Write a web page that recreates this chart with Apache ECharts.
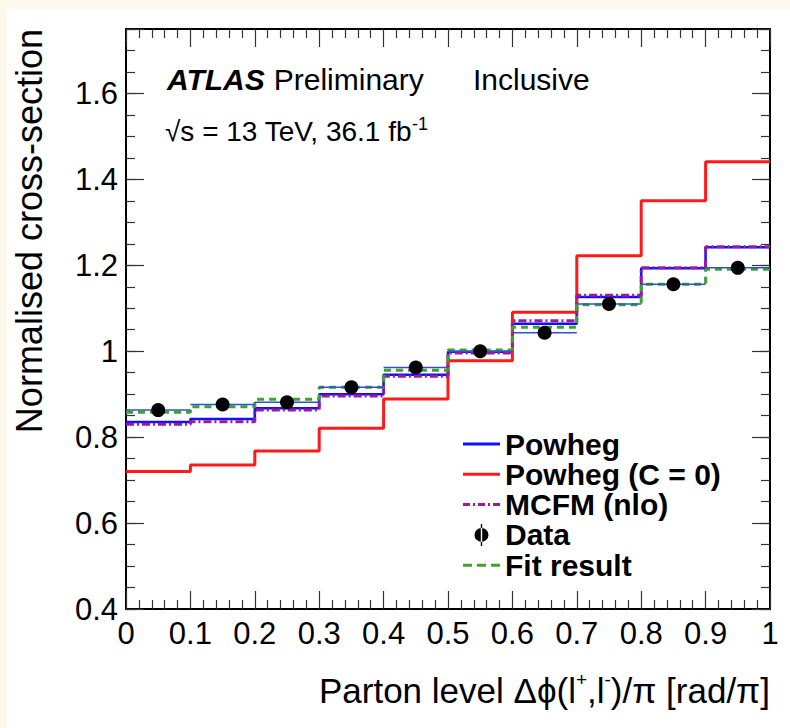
<!DOCTYPE html>
<html>
<head>
<meta charset="utf-8">
<script src="https://cdn.jsdelivr.net/npm/echarts@6/dist/echarts.min.js"></script>
<style>
  html, body { margin: 0; padding: 0; background: #fdf9ea; }
  #chart { position: absolute; left: 7px; top: 9px; width: 783px; height: 719px; background: #ffffff; }
</style>
</head>
<body>
<div id="chart"></div>
<script>
// ---- data ----
const binEdges   = [0, 0.1, 0.2, 0.3, 0.4, 0.5, 0.6, 0.7, 0.8, 0.9, 1.0];
const binCenters = [0.05, 0.15, 0.25, 0.35, 0.45, 0.55, 0.65, 0.75, 0.85, 0.95];
const powheg     = [0.835, 0.842, 0.867, 0.900, 0.945, 0.999, 1.064, 1.126, 1.193, 1.242];
const powhegC0   = [0.720, 0.735, 0.768, 0.821, 0.889, 0.978, 1.091, 1.222, 1.350, 1.441];
const mcfm       = [0.830, 0.836, 0.863, 0.896, 0.942, 0.996, 1.071, 1.130, 1.194, 1.243];
const dataVals   = [0.863, 0.876, 0.881, 0.916, 0.962, 1.000, 1.043, 1.110, 1.156, 1.194];
const fitVals    = [0.858, 0.871, 0.888, 0.916, 0.956, 1.003, 1.056, 1.108, 1.156, 1.191];

const xTickValues = [0, 0.1, 0.2, 0.3, 0.4, 0.5, 0.6, 0.7, 0.8, 0.9, 1];
const xTickLabels = ['0', '0.1', '0.2', '0.3', '0.4', '0.5', '0.6', '0.7', '0.8', '0.9', '1'];
const yTickValues = [0.4, 0.6, 0.8, 1, 1.2, 1.4, 1.6];
const yTickLabels = ['0.4', '0.6', '0.8', '1', '1.2', '1.4', '1.6'];

const seriesNames = ['Powheg', 'Powheg (C = 0)', 'MCFM (nlo)', 'Data', 'Fit result'];

// ---- helpers ----
const FONT = "'Liberation Sans', Arial, Helvetica, sans-serif";
function stepData(vals) {
  const out = vals.map((v, i) => [binEdges[i], v]);
  out.push([binEdges[binEdges.length - 1], vals[vals.length - 1]]);
  return out;
}
function findLabel(values, labels, v) {
  const i = values.findIndex(t => Math.abs(t - v) < 1e-6);
  return i >= 0 ? labels[i] : '';
}
const histData = dataVals.map((v, i) => [binCenters[i], v, binEdges[i], binEdges[i + 1]]);

const frameLine = { show: true, lineStyle: { color: '#000', width: 2 } };
const tickStyle = { color: '#333', width: 1.2 };

function xAxisDef(pos, showLabel) {
  return {
    type: 'value', position: pos, min: 0, max: 1, interval: 0.1,
    axisLine: frameLine,
    axisTick: { show: true, inside: true, length: 18, lineStyle: tickStyle },
    minorTick: { show: true, splitNumber: 5, length: 9, lineStyle: tickStyle },
    splitLine: { show: false }, minorSplitLine: { show: false },
    axisLabel: {
      show: showLabel, fontSize: 31, fontFamily: FONT, color: '#000', margin: 9,
      formatter: v => findLabel(xTickValues, xTickLabels, v)
    }
  };
}
function yMinorDef(pos) {
  return {
    type: 'value', position: pos, min: 0.4, max: 1.75, interval: 0.05,
    axisLine: frameLine,
    axisTick: { show: true, inside: true, length: 9, lineStyle: tickStyle },
    splitLine: { show: false },
    axisLabel: { show: false }
  };
}
function yMajorDef(pos, showLabel) {
  return {
    type: 'value', position: pos, min: 0.4, max: 1.75, interval: 0.2,
    axisLine: frameLine,
    axisTick: { show: true, inside: true, length: 18, lineStyle: tickStyle },
    splitLine: { show: false },
    axisLabel: {
      show: showLabel, fontSize: 31, fontFamily: FONT, color: '#000', margin: 8,
      formatter: v => findLabel(yTickValues, yTickLabels, v)
    }
  };
}

const chart = echarts.init(document.getElementById('chart'), null, { renderer: 'svg' });

const option = {
  animation: false,
  backgroundColor: '#ffffff',
  grid: { left: 119, right: 20, top: 20, bottom: 119, containLabel: false },
  xAxis: [xAxisDef('bottom', true), xAxisDef('top', false)],
  yAxis: [yMinorDef('left'), yMajorDef('left', true), yMinorDef('right'), yMajorDef('right', false)],
  legend: {
    orient: 'vertical', left: 451, top: 415,
    itemWidth: 37, itemHeight: 22, itemGap: 0.3,
    selectedMode: false,
    textStyle: { fontSize: 30, lineHeight: 30, fontWeight: 'bold', fontFamily: FONT, color: '#000' },
    data: [
      { name: seriesNames[0], icon: 'path://M0,0h37v3h-37z' },
      { name: seriesNames[1], icon: 'path://M0,0h37v3h-37z' },
      { name: seriesNames[2], icon: 'path://M0,0h7v3h-7z M10,0h2v3h-2z M15,0h7v3h-7z M25,0h2v3h-2z M30,0h7v3h-7z' },
      { name: seriesNames[3], icon: 'path://M0,11a7,7 0 1,0 14,0a7,7 0 1,0 -14,0z M6.3,0h1.4v22h-1.4z' },
      { name: seriesNames[4], icon: 'path://M0,0h9v3h-9z M14,0h9v3h-9z M28,0h9v3h-9z' }
    ]
  },
  graphic: [
    {
      type: 'text', left: 160, top: 55,
      style: {
        text: '{b|ATLAS}{n|Preliminary}',
        rich: {
          b: { fontSize: 30, fontWeight: 'bold', fontStyle: 'italic', fontFamily: FONT, fill: '#000' },
          n: { fontSize: 30, fontFamily: FONT, fill: '#000', padding: [0, 0, 0, 9] }
        }
      }
    },
    {
      type: 'text', left: 466, top: 55,
      style: { text: 'Inclusive', fontSize: 30, fontFamily: FONT, fill: '#000' }
    },
    {
      type: 'text', left: 158, top: 106,
      style: {
        text: '√s = 13 TeV, 36.1 fb{s|-1}',
        fontSize: 28, fontFamily: FONT, fill: '#000',
        rich: { s: { fontSize: 18, fontFamily: FONT, verticalAlign: 'top', lineHeight: 32 } }
      }
    },
    {
      type: 'text', x: 22, y: 20, rotation: Math.PI / 2,
      style: { text: 'Normalised cross-section', fontSize: 36, fontFamily: FONT, fill: '#000', align: 'right', verticalAlign: 'middle' }
    },
    {
      type: 'text', x: 763, y: 681,
      style: {
        text: 'Parton level Δϕ(l{s|+},l{s|-})/π [rad/π]',
        fontSize: 35, fontFamily: FONT, fill: '#000', align: 'right', verticalAlign: 'middle',
        rich: { s: { fontSize: 19, fontFamily: FONT, verticalAlign: 'top', lineHeight: 40 } }
      }
    }
  ],
  series: [
    {
      name: seriesNames[0], type: 'line', step: 'end', symbol: 'none', z: 2,
      data: stepData(powheg),
      lineStyle: { color: '#1010ff', width: 2.5 }, itemStyle: { color: '#1010ff' }
    },
    {
      name: seriesNames[1], type: 'line', step: 'end', symbol: 'none', z: 3,
      data: stepData(powhegC0),
      lineStyle: { color: '#ff1a1a', width: 3 }, itemStyle: { color: '#ff1a1a' }
    },
    {
      name: seriesNames[2], type: 'line', step: 'end', symbol: 'none', z: 4,
      data: stepData(mcfm),
      lineStyle: { color: '#9a1a9e', width: 3, type: [8, 3, 2, 3] }, itemStyle: { color: '#9a1a9e' }
    },
    {
      name: seriesNames[4], type: 'line', step: 'end', symbol: 'none', z: 5,
      data: stepData(fitVals),
      lineStyle: { color: '#3aa52a', width: 3, type: [7, 5] }, itemStyle: { color: '#3aa52a' }
    },
    {
      name: seriesNames[3], type: 'custom', z: 6,
      data: histData,
      itemStyle: { color: '#000' },
      renderItem: function (params, api) {
        const y = api.value(1);
        const c = api.coord([api.value(0), y]);
        const pl = api.coord([api.value(2), y]);
        const pr = api.coord([api.value(3), y]);
        return {
          type: 'group',
          children: [
            { type: 'line', shape: { x1: pl[0], y1: pl[1], x2: pr[0], y2: pr[1] },
              style: { stroke: '#3050d0', lineWidth: 1.5 } },
            { type: 'circle', shape: { cx: c[0], cy: c[1], r: 7 }, style: { fill: '#000' } }
          ]
        };
      }
    }
  ]
};
chart.setOption(option);
</script>
</body>
</html>
